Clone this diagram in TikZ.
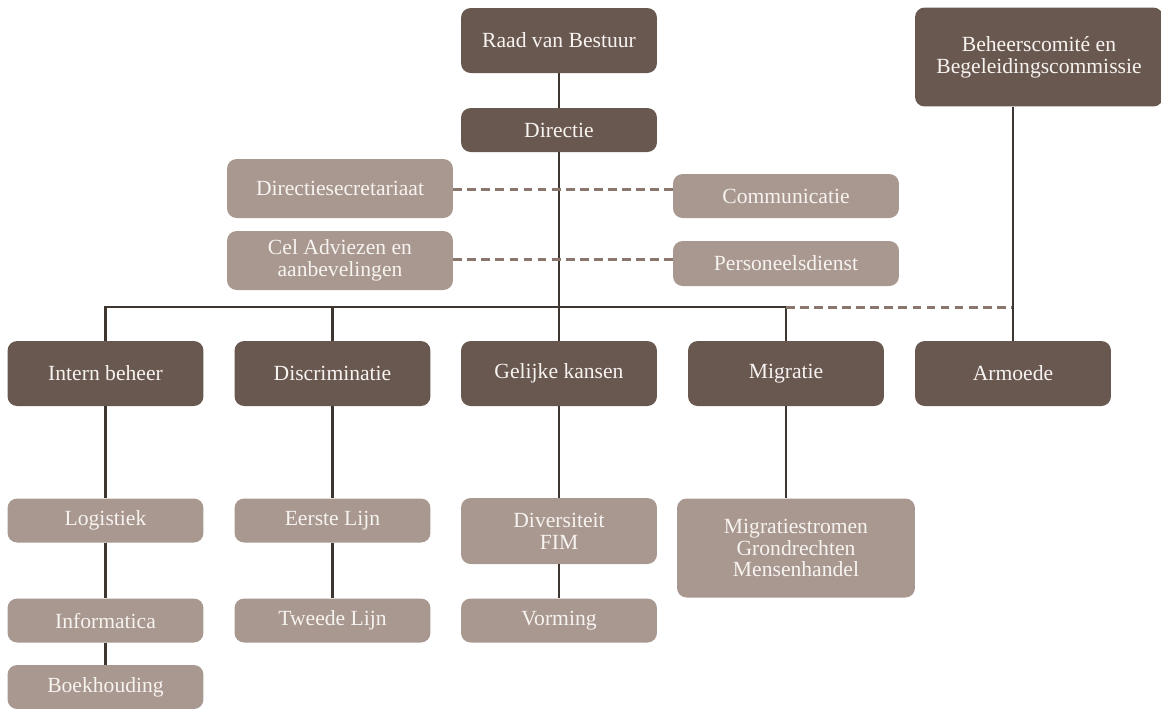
\documentclass[tikz,border=0pt]{standalone}
\usepackage{fontspec}
\setmainfont{Liberation Serif}
\usepackage{tikz}
\usetikzlibrary{calc}
\definecolor{darkbox}{HTML}{695850}
\definecolor{lightbox}{HTML}{A8988F}
\definecolor{linecol}{HTML}{3D3631}
\definecolor{dashcol}{HTML}{8A766C}
\definecolor{boxtext}{HTML}{F7F3F1}

\begin{document}
\begin{tikzpicture}[x=0.02cm,y=-0.02cm,
  every node/.style={rectangle,rounded corners=5.5pt,text=boxtext,align=center,inner sep=2pt,
    font=\fontsize{12.3}{12.4}\selectfont},
  dark/.style={fill=darkbox},
  light/.style={fill=lightbox},
  link/.style={draw=linecol,line width=1.3pt},
  dotlink/.style={draw=dashcol,line width=1.7pt,dash pattern=on 5pt off 3pt}]
\useasboundingbox (0,0) rectangle (1161,708);

\node (raad) at (559,40.5) [dark,minimum width=3.92cm,minimum height=1.3cm] {Raad van Bestuur};
\node (dir) at (559,130) [dark,minimum width=3.92cm,minimum height=0.88cm] {Directie};
\node (beh) at (1039,57) [dark,minimum width=4.96cm,minimum height=1.98cm] {Beheerscomité en\\Begeleidingscommissie};

\node (sec) at (340,188.5) [light,minimum width=4.52cm,minimum height=1.18cm] {Directiesecretariaat};
\node (cel) at (340,260.5) [light,minimum width=4.52cm,minimum height=1.18cm] {Cel Adviezen en\\aanbevelingen};
\node (com) at (786,196) [light,minimum width=4.52cm,minimum height=0.88cm] {Communicatie};
\node (pers) at (786,263.5) [light,minimum width=4.52cm,minimum height=0.9cm] {Personeelsdienst};

\node (intern) at (105.5,373.5) [dark,minimum width=3.92cm,minimum height=1.3cm] {Intern beheer};
\node (disc) at (332.5,373.5) [dark,minimum width=3.92cm,minimum height=1.3cm] {Discriminatie};
\node (gel) at (559,373.5) [dark,minimum width=3.92cm,minimum height=1.3cm] {Gelijke kansen};
\node (mig) at (786,373.5) [dark,minimum width=3.92cm,minimum height=1.3cm] {Migratie};
\node (arm) at (1013,373.5) [dark,minimum width=3.92cm,minimum height=1.3cm] {Armoede};

\node (log) at (105.5,520.5) [light,minimum width=3.92cm,minimum height=0.88cm] {Logistiek};
\node (info) at (105.5,620.5) [light,minimum width=3.92cm,minimum height=0.88cm] {Informatica};
\node (boek) at (105.5,687) [light,minimum width=3.92cm,minimum height=0.88cm] {Boekhouding};
\node (eerste) at (332.5,520.5) [light,minimum width=3.92cm,minimum height=0.88cm] {Eerste Lijn};
\node (tweede) at (332.5,620.5) [light,minimum width=3.92cm,minimum height=0.88cm] {Tweede Lijn};
\node (div) at (559,531) [light,minimum width=3.92cm,minimum height=1.32cm] {Diversiteit\\FIM};
\node (vorm) at (559,620.5) [light,minimum width=3.92cm,minimum height=0.88cm] {Vorming};
\node (migstr) at (796,548) [light,minimum width=4.76cm,minimum height=1.98cm] {Migratiestromen\\Grondrechten\\Mensenhandel};

\coordinate (bar) at (559,307);

\draw[link] (raad.south) -- (dir.north);
\draw[link] (dir.south) -- (gel.north);
\draw[link] (intern.north) |- (bar) -| (mig.north);
\draw[link] (disc.north) -- (disc.north |- bar);
\draw[dotlink] (mig.north |- bar) -- (arm.north |- bar);
\draw[link] (arm.north |- beh.south) -- (arm.north);
\draw[dotlink] (sec.east |- 0,189) -- (com.west |- 0,189);
\draw[dotlink] (cel.east |- 0,259) -- (pers.west |- 0,259);

\draw[link] (intern.south) -- (log.north);
\draw[link] (log.south) -- (info.north);
\draw[link] (info.south) -- (boek.north);
\draw[link] (disc.south) -- (eerste.north);
\draw[link] (eerste.south) -- (tweede.north);
\draw[link] (gel.south) -- (div.north);
\draw[link] (div.south) -- (vorm.north);
\draw[link] (mig.south) -- (mig.south |- migstr.north);
\end{tikzpicture}
\end{document}
